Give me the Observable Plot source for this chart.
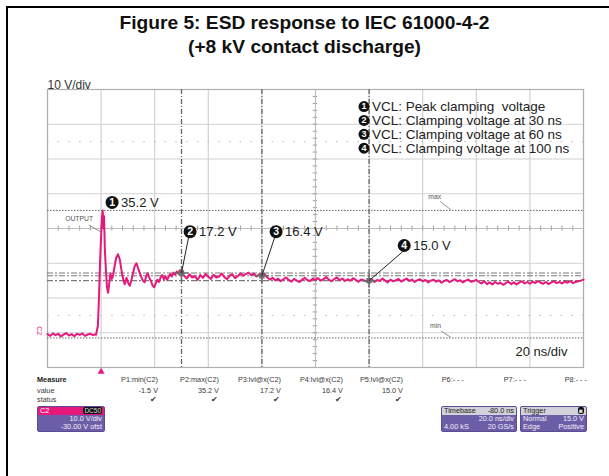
<!DOCTYPE html>
<html><head><meta charset="utf-8">
<script src="https://cdn.jsdelivr.net/npm/d3@7"></script>
<script src="https://cdn.jsdelivr.net/npm/@observablehq/plot@0.6"></script>
<style>
body{margin:0;background:#fff;font-family:"Liberation Sans",Arial,sans-serif;}
#fig{position:relative;width:609px;height:476px;overflow:hidden;background:#fff;}
#frame{position:absolute;left:6px;top:6px;width:700px;height:600px;border-left:2px solid #000;border-top:2px solid #000;}
#title{position:absolute;left:0;top:11px;width:609px;text-align:center;font-weight:bold;font-size:19.2px;line-height:24px;color:#111;}
#chart{position:absolute;left:0;top:62px;}
.m{position:absolute;font-size:7.3px;line-height:9px;color:#3a3a3a;white-space:nowrap;}
.ck{position:absolute;font-size:8px;line-height:9px;color:#3a3a3a;}
.box{position:absolute;top:406px;height:26px;background:#6c5ea6;border:1px solid #5a4c94;border-radius:2px;box-sizing:border-box;overflow:hidden;font-size:7.3px;line-height:8.3px;color:#f2f0fa;}
.hd{height:8px;line-height:8px;padding:0 2px;display:flex;justify-content:space-between;}
.rw{height:8.3px;padding:0 2px;display:flex;justify-content:space-between;}
</style></head>
<body><div id="fig">
<div id="frame"></div>
<div id="title">Figure 5: ESD response to IEC 61000-4-2<br>(+8 kV contact discharge)</div>
<div id="chart"></div>
</div>
<script>
// ---- scope screen scales: 20 ns/div horizontally, 10 V/div vertically ----
const timeDomain = [-20, 180];
const voltDomain = [-10, 70];
const gridTimes = [-20, 0, 20, 40, 60, 80, 100, 120, 140, 160, 180];
const gridVolts = [-10, 0, 10, 20, 30, 40, 50, 60, 70];
const minorTimes = d3.range(-20, 181, 4);
const minorVolts = d3.range(-10, 71, 2);
const faintRows = [55, 5];

// ---- trace (C2) ----
const baseStart = -20;             // ns, 1 ns sampling
const baseVolts = [-0.4,-0.9,-0.2,-0.7,-0.3,-1.1,-0.5,-0.1,-0.8,-0.4,-1.0,-0.3,-0.6,-0.2,-0.9,-0.5,-0.3,-0.7,-0.4];
const ringTimes = [-1.9,-1.2,-0.8,-0.4,0,0.3,0.6,0.9,1.1,1.4,1.8,2.2,2.6,3.0,3.5,4.0,4.5,5.0,5.6,6.3,7.0,7.6,8.2,8.8,9.5,10.1,10.7,11.3,12,12.6,13.2,13.8,14.4,15.0,15.6,16.2,16.8,17.4,18,18.6,19.2,19.8,20.4,21.0,21.6,22.2,22.8,23.4,24,24.6,25.2,25.8,26.4,27,27.6,28.2,28.8,29.4,30];
const ringVolts = [-0.6,2,10,20,28,33,35.2,30,33.5,24,18,13,11.5,14,17,15.5,16.5,19,21.5,22.6,21,18,15.5,14,15.8,14.3,13.5,15.2,17.5,19.3,20,18.6,17.3,16,15,14.5,16.2,17.1,15.8,14.9,13.6,13.1,14.2,15.3,14.6,15.9,16.6,15.4,16.3,15.2,16.1,16.9,16.2,17.3,16.7,17.6,17.0,18.0,17.2];
const tailStart = 31;              // ns, 1 ns sampling
const tailVolts = [
16.4,15.6,16.8,15.9,16.3,15.2,16.6,15.8,16.9,16.1,
15.5,16.7,15.9,16.2,17.0,16.0,15.4,16.5,16.8,15.7,
16.3,17.1,16.4,16.9,17.3,16.6,17.0,16.2,16.8,16.4,
16.9,15.9,15.3,15.8,15.1,15.6,14.8,15.4,15.9,15.2,
14.7,15.5,15.0,14.6,15.3,15.8,15.1,14.9,15.6,15.2,
15.7,15.0,15.4,16.0,15.3,14.8,15.5,15.9,15.1,15.6,
14.9,15.4,15.0,15.7,15.2,14.7,15.3,15.1,14.8,15.0,
15.4,14.6,15.2,14.9,15.6,15.0,14.5,15.3,14.8,15.1,
15.5,14.7,15.2,15.6,14.9,15.3,14.6,15.1,15.4,14.8,
15.2,14.5,15.0,15.3,14.7,15.1,14.4,14.9,15.2,14.6,
15.0,15.4,14.8,15.1,14.5,15.0,15.3,14.7,14.9,15.2,
14.6,14.2,14.8,14.0,14.5,13.9,14.6,14.1,14.4,13.8,
14.3,14.7,14.0,14.5,13.9,14.4,14.8,14.2,14.6,14.1,
14.7,14.3,14.9,14.4,14.1,14.6,14.0,14.5,14.8,14.3,
14.6,14.2,14.7,14.4,14.9,14.3,14.6,14.8,15.0,15.3];

// ---- measurements / cursors ----
const maxVolt = 35.2, minVolt = -1.5;
const cursorTimes = [30, 60, 100];
const cursorVolts = [17.2, 16.4, 15.0];
const badgeNums = ["1", "2", "3", "4"];
const badgeLabels = ["35.2 V", "17.2 V", "16.4 V", "15.0 V"];
const badgeT = [4.1, 33.2, 65.3, 113.1];
const badgeV = [37.5, 29.1, 29.1, 25.1];
const legendTexts = ["VCL: Peak clamping  voltage", "VCL: Clamping voltage at 30 ns", "VCL: Clamping voltage at 60 ns", "VCL: Clamping voltage at 100 ns"];
const legendT = 98.1;
const legendV = [65.1, 61.1, 57.1, 53.1];

const trace = [];
baseVolts.forEach((v, i) => trace.push({t: baseStart + i, v}));
ringTimes.forEach((t, i) => trace.push({t, v: ringVolts[i]}));
tailVolts.forEach((v, i) => trace.push({t: tailStart + i, v}));

const cursors = cursorTimes.map((t, i) => ({t, v: cursorVolts[i]}));
const badges = badgeNums.map((n, i) => ({n, label: badgeLabels[i], t: badgeT[i], v: badgeV[i]}));
const leaders = badges.slice(1).map((b, i) => ({t1: b.t - 0.6, v1: b.v - 1.8, t2: cursors[i].t, v2: cursors[i].v}));
const legend = legendTexts.map((s, i) => ({n: badgeNums[i], s, t: legendT, v: legendV[i]}));
const smallLabels = [
  {s: "max", t: 124.5, v: 39.2, lt1: 126.5, lv1: 37.8, lt2: 130.5, lv2: 35.4},
  {s: "min", t: 124.8, v: 1.9, lt1: 126.8, lv1: 0.5, lt2: 130.5, lv2: -1.3},
  {s: "OUTPUT", t: -8.2, v: 32.9, lt1: -4.6, lv1: 31.0, lt2: 0.4, lv2: 28.8}
];

const pink = "#e5197b";
const dashDot = "5,2,1,2";

const plot = Plot.plot({
  width: 609, height: 320,
  marginLeft: 47, marginRight: 26, marginTop: 27, marginBottom: 15,
  x: {domain: timeDomain, axis: null},
  y: {domain: voltDomain, axis: null},
  style: {fontFamily: "'Liberation Sans', Arial, sans-serif", overflow: "visible", background: "transparent"},
  marks: [
    Plot.ruleX(gridTimes, {stroke: "#d2d2d2", strokeWidth: 1.2}),
    Plot.ruleY(gridVolts, {stroke: "#d2d2d2", strokeWidth: 1.2}),
    Plot.ruleY(faintRows, {stroke: "#b8b8b8", strokeDasharray: "1.5,9.2"}),
    Plot.ruleX(minorTimes, {x: d => d, y1: 29.3, y2: 30.7, stroke: "#999"}),
    Plot.ruleY(minorVolts, {y: d => d, x1: 79.2, x2: 80.8, stroke: "#999"}),
    Plot.ruleY([30], {stroke: "#bdbdbd"}),
    Plot.ruleX([80], {stroke: "#bdbdbd"}),
    Plot.frame({stroke: "#b0b0b0", strokeWidth: 1.2}),
    Plot.ruleY([maxVolt, minVolt], {stroke: "#666", strokeDasharray: "1.5,1.5"}),
    Plot.ruleY(cursorVolts, {stroke: "#7a7a7a", strokeWidth: 1.1, strokeDasharray: "6,2,2,2"}),
    Plot.ruleX(cursorTimes, {stroke: "#666", strokeWidth: 1.3, strokeDasharray: dashDot}),
    Plot.line(trace, {x: "t", y: "v", stroke: pink, strokeWidth: 2, strokeLinejoin: "round"}),
    Plot.dot(cursors, {x: "t", y: "v", symbol: "plus", r: 4.5, stroke: "#6a6a6a", strokeWidth: 1.5}),
    Plot.dot(cursors, {x: "t", y: "v", symbol: "square", r: 2.2, stroke: "#6a6a6a", fill: "none"}),
    Plot.link(leaders, {x1: "t1", y1: "v1", x2: "t2", y2: "v2", stroke: "#222", strokeWidth: 1}),
    Plot.dot(badges, {x: "t", y: "v", r: 6.5, fill: "#111"}),
    Plot.text(badges, {x: "t", y: "v", text: "n", fill: "#fff", fontWeight: "bold", fontSize: 10.5}),
    Plot.text(badges, {x: "t", y: "v", text: "label", dx: 9, textAnchor: "start", fontSize: 13, fill: "#222"}),
    Plot.dot(legend, {x: "t", y: "v", r: 5.5, fill: "#111"}),
    Plot.text(legend, {x: "t", y: "v", text: "n", fill: "#fff", fontWeight: "bold", fontSize: 9}),
    Plot.text(legend, {x: "t", y: "v", text: "s", dx: 8, textAnchor: "start", fontSize: 13.5, fill: "#222"}),
    Plot.link(smallLabels, {x1: "lt1", y1: "lv1", x2: "lt2", y2: "lv2", stroke: "#777", strokeWidth: 0.8}),
    Plot.text(smallLabels, {x: "t", y: "v", text: "s", fontSize: 6.8, fill: "#555", textDecoration: "underline"}),
    Plot.text(["C2"], {x: -23.2, y: 0.6, rotate: 90, fontSize: 7, fill: pink}),
    Plot.dot([0], {x: d => d, y: -11.2, symbol: "triangle", r: 2.6, fill: pink}),
    Plot.text(["10 V/div"], {frameAnchor: "top-left", dy: -9, textAnchor: "start", fontSize: 12, fill: "#333"}),
    Plot.text(["20 ns/div"], {frameAnchor: "bottom-right", dx: -16, dy: -12, textAnchor: "end", fontSize: 13, fill: "#222"})
  ]
});
document.getElementById("chart").appendChild(plot);

// ---- measurement panel ----
const measureNames = ["P1:min(C2)", "P2:max(C2)", "P3:lvl@x(C2)", "P4:lvl@x(C2)", "P5:lvl@x(C2)", "P6:- - -", "P7:- - -", "P8:- - -"];
const measureValues = ["-1.5 V", "35.2 V", "17.2 V", "16.4 V", "15.0 V", "", "", ""];
const measureStatus = [true, true, true, true, true, false, false, false];
const colRight = [158, 219, 281, 343, 403, 464, 526, 587];
const fig = document.getElementById("fig");
function add(cls, txt, css) {
  const d = document.createElement("div");
  d.className = cls; d.textContent = txt;
  Object.assign(d.style, css); fig.appendChild(d); return d;
}
add("m", "Measure", {left: "37px", top: "375px", fontWeight: "bold", color: "#222"});
add("m", "value", {left: "37px", top: "385.5px"});
add("m", "status", {left: "37px", top: "395px"});
measureNames.forEach((s, i) => {
  add("m", s, {right: (609 - colRight[i]) + "px", top: "375px"});
  if (measureValues[i]) add("m", measureValues[i], {right: (609 - colRight[i]) + "px", top: "385.5px"});
  if (measureStatus[i]) add("ck", "\u2714", {left: (colRight[i] - 8) + "px", top: "394.5px"});
});

function box(left, width, header, rows, headerBg, headerColor) {
  const b = document.createElement("div");
  b.className = "box"; b.style.left = left + "px"; b.style.width = width + "px";
  const h = document.createElement("div"); h.className = "hd";
  h.style.background = headerBg; h.style.color = headerColor;
  header.forEach(s => { const sp = document.createElement("span"); sp.innerHTML = s; h.appendChild(sp); });
  b.appendChild(h);
  rows.forEach(r => {
    const rw = document.createElement("div"); rw.className = "rw";
    r.forEach(s => { const sp = document.createElement("span"); sp.textContent = s; rw.appendChild(sp); });
    b.appendChild(rw);
  });
  fig.appendChild(b);
}
const chip = s => `<span style="background:#111;color:#ddd;border-radius:2px;padding:0 1px;font-size:6.5px">${s}</span>`;
box(37, 68, ["C2", chip("DC50")], [["", "10.0 V/div"], ["", "-30.00 V ofst"]], pink, "#fff");
box(441, 76, ["Timebase", "-80.0 ns"], [["", "20.0 ns/div"], ["4.00 kS", "20 GS/s"]], "#d3d1da", "#222");
box(520, 67, ["Trigger", chip("&#9632;")], [["Normal", "15.0 V"], ["Edge", "Positive"]], "#d3d1da", "#222");
</script>
</body></html>
